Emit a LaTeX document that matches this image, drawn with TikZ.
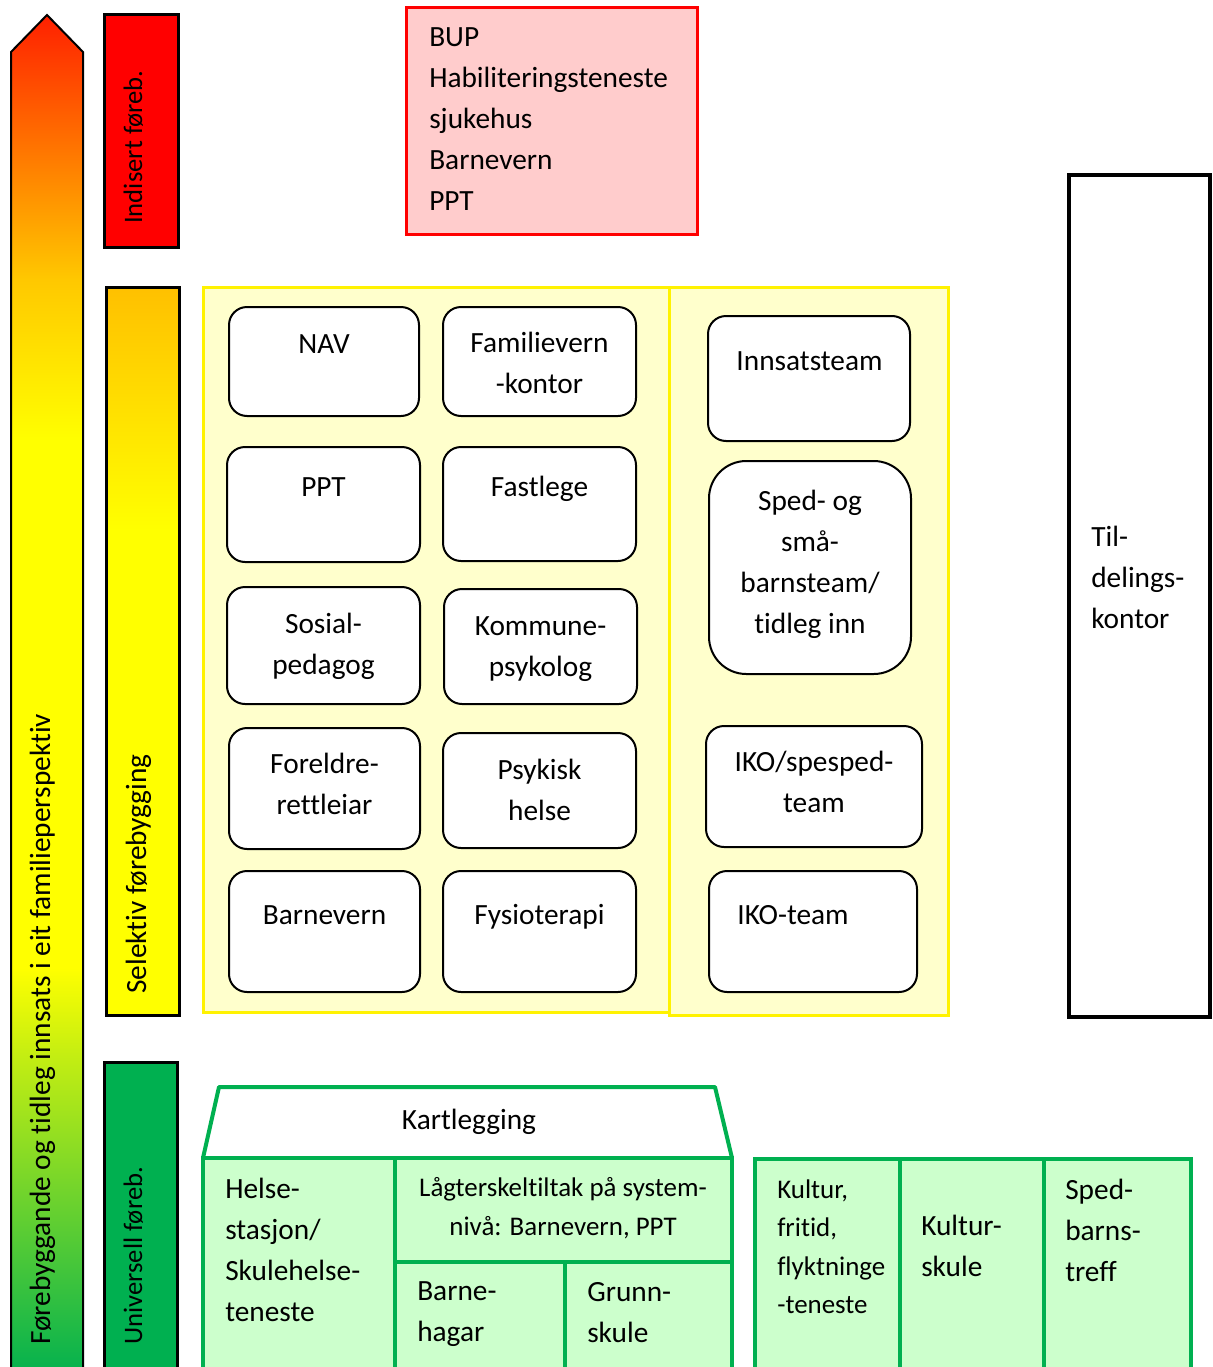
\documentclass[tikz,border=0pt]{standalone}
\usepackage{fontspec}
\setmainfont{Carlito}[Ligatures=NoCommon]

\definecolor{grn}{HTML}{00B050}
\definecolor{ygrn}{HTML}{C4EE12}
\definecolor{gold}{HTML}{FFC800}
\definecolor{redor}{HTML}{FF2000}
\definecolor{lightgrn}{HTML}{CCFFCC}
\definecolor{lightyel}{HTML}{FFFFCC}
\definecolor{lightred}{HTML}{FFCCCC}
\definecolor{selgold}{HTML}{FFC000}

\pgfdeclareverticalshading{arrowshade}{100bp}{color(0bp)=(grn); color(25bp)=(grn); color(36.9bp)=(ygrn); color(40.1bp)=(yellow); color(59.4bp)=(yellow); color(65.3bp)=(gold); color(75bp)=(redor); color(100bp)=(redor)}
\pgfdeclareverticalshading{selshade}{100bp}{color(0bp)=(yellow); color(25bp)=(yellow); color(58.3bp)=(yellow); color(75bp)=(selgold); color(100bp)=(selgold)}

\begin{document}
\begin{tikzpicture}[x=0.75pt,y=-0.75pt,
    unit box/.style={draw=black,fill=white,line width=1.5pt,rounded corners=13.5pt},
    bar box/.style={draw=black,line width=2.25pt},
    green box/.style={draw=grn,fill=lightgrn,line width=3pt},
    big text/.style={font=\fontsize{22}{30.75}\selectfont,inner sep=0pt},
    small text/.style={font=\fontsize{20.2}{28.8}\selectfont,inner sep=0pt},
    bar text/.style={font=\fontsize{22}{30.75}\selectfont,inner sep=0pt,rotate=90,anchor=base west}]

    \useasboundingbox (0,0) rectangle (1213,1367);
    \clip (0,0) rectangle (1213,1367);

    % arrow and the three levels
    \shadedraw[shading=arrowshade,line width=1.5pt] (11,1380) -- (11,52) -- (47,15) -- (83,52) -- (83,1380) -- cycle;
    \node[bar text] (forebyggande) at (50,1345) {Førebyggande og tidleg innsats i eit familieperspektiv};

    \draw[bar box,fill=red] (104,14) rectangle (178,247);
    \node[bar text,font=\fontsize{20}{28}\selectfont] (indisert) at (142,224) {Indisert føreb.};
    \shadedraw[bar box,shading=selshade] (106,287) rectangle (179,1015);
    \node[bar text] (selektiv) at (146,994) {Selektiv førebygging};
    \draw[bar box,fill=grn] (104,1062) rectangle (177,1380);
    \node[bar text,font=\fontsize{20}{28}\selectfont] (universell) at (142,1345) {Universell føreb.};

    % indisert
    \draw[draw=red,fill=lightred,line width=2.25pt] (406,7) rectangle (697,234);
    \node[big text,anchor=north west,align=left] (bup) at (429,17.8) {\strut BUP\\Habiliteringsteneste\\sjukehus\\Barnevern\\PPT};

    % selektiv
    \draw[draw=yellow,fill=lightyel,line width=2.25pt] (203,287) rectangle (669,1012);
    \draw[draw=yellow,fill=lightyel,line width=2.25pt] (669,287) rectangle (948,1015);

    \draw[unit box] (229,307) rectangle (419,416);
    \node[big text,anchor=north,align=center] (nav) at (324,324.3) {\strut NAV};
    \draw[unit box] (443,307) rectangle (636,416);
    \node[big text,anchor=north,align=center] (famvern) at (539.5,323.3) {\strut Familievern\\-kontor};
    \draw[unit box] (227,447) rectangle (420,562);
    \node[big text,anchor=north,align=center] (ppt) at (323.5,467.3) {\strut PPT};
    \draw[unit box] (443,447) rectangle (636,561);
    \node[big text,anchor=north,align=center] (fastlege) at (539.5,467.3) {\strut Fastlege};
    \draw[unit box] (227,587) rectangle (420,704);
    \node[big text,anchor=north,align=center] (sosped) at (323.5,604.3) {\strut Sosial-\\pedagog};
    \draw[unit box] (444,589) rectangle (637,704);
    \node[big text,anchor=north,align=center] (kompsyk) at (540.5,606.3) {\strut Kommune-\\psykolog};
    \draw[unit box] (229,728) rectangle (420,849);
    \node[big text,anchor=north,align=center] (foreldre) at (324.5,744.3) {\strut Foreldre-\\rettleiar};
    \draw[unit box] (443,733) rectangle (636,848);
    \node[big text,anchor=north,align=center] (psykisk) at (539.5,750.3) {\strut Psykisk\\helse};
    \draw[unit box] (229,871) rectangle (420,992);
    \node[big text,anchor=north,align=center] (barnevern) at (324.5,895.3) {\strut Barnevern};
    \draw[unit box] (443,871) rectangle (636,992);
    \node[big text,anchor=north,align=center] (fysio) at (539.5,895.3) {\strut Fysioterapi};

    \draw[unit box] (708,316) rectangle (910,441);
    \node[big text,anchor=north,align=center] (innsats) at (809.5,341.3) {\strut Innsatsteam};
    \draw[unit box,rounded corners=28pt] (709,461) rectangle (911,674);
    \node[big text,anchor=north,align=center] (spedsma) at (810,481.3) {\strut Sped- og\\små-\\barnsteam/\\tidleg inn};
    \draw[unit box] (706,726) rectangle (922,847);
    \node[big text,anchor=north,align=center] (ikospes) at (814,742.3) {\strut IKO/spesped-\\team};
    \draw[unit box] (709,871) rectangle (917,992);
    \node[big text,anchor=north,align=center] (ikoteam) at (793,895.3) {\strut IKO-team};

    \draw[draw=black,fill=white,line width=3pt] (1069,175) rectangle (1210,1017);
    \node[big text,anchor=north west,align=left] (tildeling) at (1091,517.3) {\strut Til-\\delings-\\kontor};

    % universell
    \draw[draw=grn,fill=white,line width=3pt,line join=round] (219,1087) -- (715,1087) -- (732,1158) -- (203,1158) -- cycle;
    \node[big text,anchor=north,align=center] (kartlegging) at (469,1100.3) {\strut Kartlegging};
    \draw[green box] (203,1158) rectangle (395,1380);
    \node[big text,anchor=north west,align=left] (helse) at (225,1169.3) {\strut Helse-\\stasjon/\\Skulehelse-\\teneste};
    \draw[green box] (395,1158) rectangle (732,1262);
    \node[small text,anchor=north,align=center] (lagterskel) at (563,1169.8) {\strut Lågterskeltiltak på system-\\nivå: Barnevern, PPT};
    \draw[green box] (395,1262) rectangle (565,1380);
    \node[big text,anchor=north west,align=left] (barnehage) at (417,1271.3) {\strut Barne-\\hagar};
    \draw[green box] (565,1262) rectangle (732,1380);
    \node[big text,anchor=north west,align=left] (grunnskule) at (587,1272.8) {\strut Grunn-\\skule};

    \draw[green box] (755,1159) rectangle (900,1380);
    \node[small text,anchor=north west,align=left] (kultur) at (777,1171.4) {\strut Kultur,\\fritid,\\flyktninge\\-teneste};
    \draw[green box] (900,1159) rectangle (1044,1380);
    \node[big text,anchor=north west,align=left] (kulturskule) at (921,1206.3) {\strut Kultur-\\skule};
    \draw[green box] (1044,1159) rectangle (1191,1380);
    \node[big text,anchor=north west,align=left] (spedbarn) at (1065,1170.3) {\strut Sped-\\barns-\\treff};

\end{tikzpicture}
\end{document}
